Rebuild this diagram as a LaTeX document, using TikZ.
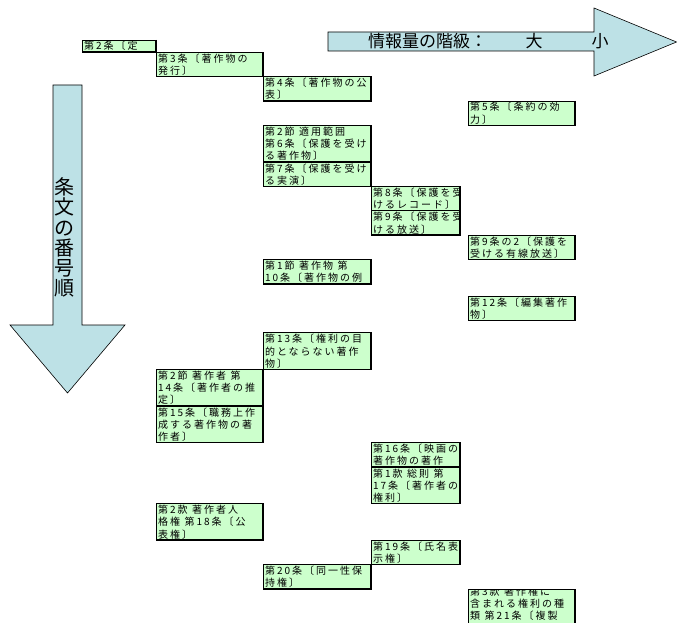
\documentclass[tikz,border=0pt]{standalone}
\usepackage{fontspec}
\setmainfont{Noto Sans CJK JP}
\newfontfamily\jpbox[LetterSpace=20]{Noto Sans CJK JP}
\newfontfamily\jpfont{Noto Sans CJK JP}
\definecolor{cellgreen}{RGB}{204,255,204}
\definecolor{arrowblue}{RGB}{189,225,230}
\newcommand\gp{\hspace{4.5pt}}
\newcommand\cellbox[7]{%
  \pgfmathsetmacro\cya{40+12.2*#4}%
  \pgfmathsetmacro\cyb{40+12.2*#5}%
  \pgfmathsetmacro\cw{#3-#2}%
  \pgfmathsetmacro\ch{\cyb-\cya}%
  \node[cell, minimum width=\cw pt, minimum height=\ch pt] (#1) at (#2,\cya) {};
  \begin{scope}
    \clip (#1.north west) rectangle (#1.south east);
    \foreach \celltxt [count=\ci] in {#7} {
      \node[celltext] (#1-\ci) at (#2+1.8, \cya+10+#6+12.2*\ci-12.2) {\celltxt};
    }
  \end{scope}
  \draw[cellthin] (#1.north west) rectangle (#1.south east);
  \draw[cellthick] (#1.north east) -- (#1.south east) -- (#1.south west);
}
\begin{document}
\begin{tikzpicture}[x=1pt,y=-1pt,
  cell/.style={fill=cellgreen, inner sep=0pt, outer sep=0pt, anchor=north west},
  celltext/.style={anchor=base west, inner sep=0pt, font=\jpbox\fontsize{10}{12.2}\selectfont},
  cellthin/.style={draw=black, line width=0.8pt},
  cellthick/.style={draw=black, line width=1.7pt},
  bigarrow/.style={draw=black, line width=0.6pt, fill=arrowblue, line join=miter}]
\useasboundingbox (0,0) rectangle (677,623);

% big arrows
\draw[bigarrow] (328,32) -- (594,32) -- (594,8) -- (676.5,42) -- (594,76) -- (594,51) -- (328,51) -- cycle;
\draw[bigarrow] (53,85) -- (82,85) -- (82,325) -- (125,325) -- (67.5,393) -- (10,325) -- (53,325) -- cycle;
\node[anchor=west, inner sep=0pt, font=\jpfont\fontsize{17}{17}\selectfont] (hlabel) at (368,41.5) {情報量の階級：};
\node[inner sep=0pt, font=\jpfont\fontsize{17}{17}\selectfont] (hbig) at (534,41.5) {大};
\node[inner sep=0pt, font=\jpfont\fontsize{17}{17}\selectfont] (hsmall) at (600,41.5) {小};
\node[inner sep=0pt, align=center, font=\jpfont\fontsize{20}{20.2}\selectfont] (vlabel) at (64,237.5) {条\\文\\の\\番\\号\\順};

% cells
\cellbox{b1}{82}{156}{0}{1}{0}{第2条〔定}
\cellbox{b2}{156}{263}{1}{3}{0}{第3条〔著作物の,発行〕}
\cellbox{b3}{263}{371}{3}{5}{0}{第4条〔著作物の公,表〕}
\cellbox{b4}{468}{575}{5}{7}{0}{第5条〔条約の効,力〕}
\cellbox{b5}{263}{371}{7}{10}{0}{第2節\gp{}適用範囲,第6条〔保護を受け,る著作物〕}
\cellbox{b6}{263}{371}{10}{12}{0}{第7条〔保護を受け,る実演〕}
\cellbox{b7}{371}{460}{12}{14}{0}{第8条〔保護を受,けるレコード〕}
\cellbox{b8}{371}{460}{14}{16}{0}{第9条〔保護を受,ける放送〕}
\cellbox{b9}{468}{575}{16}{18}{0}{第9条の2〔保護を,受ける有線放送〕}
\cellbox{b10}{263}{371}{18}{20}{0}{第1節\gp{}著作物\gp{}第,10条〔著作物の例}
\cellbox{b11}{468}{575}{21}{23}{0}{第12条〔編集著作,物〕}
\cellbox{b12}{263}{371}{24}{27}{0}{第13条〔権利の目,的とならない著作,物〕}
\cellbox{b13}{156}{263}{27}{30}{0}{第2節\gp{}著作者\gp{}第,14条〔著作者の推,定〕}
\cellbox{b14}{156}{263}{30}{33}{0}{第15条〔職務上作,成する著作物の著,作者〕}
\cellbox{b15}{371}{460}{33}{35}{0}{第16条〔映画の,著作物の著作}
\cellbox{b16}{371}{460}{35}{38}{0}{第1款\gp{}総則\gp{}第,17条〔著作者の,権利〕}
\cellbox{b17}{156}{263}{38}{41}{0}{第2款\gp{}著作者人,格権\gp{}第18条〔公,表権〕}
\cellbox{b18}{371}{460}{41}{43}{0}{第19条〔氏名表,示権〕}
\cellbox{b19}{263}{371}{43}{45}{0}{第20条〔同一性保,持権〕}
\cellbox{b20}{468}{575}{45}{48}{-4}{第3款\gp{}著作権に,含まれる権利の種,類\gp{}第21条〔複製}
\end{tikzpicture}
\end{document}
